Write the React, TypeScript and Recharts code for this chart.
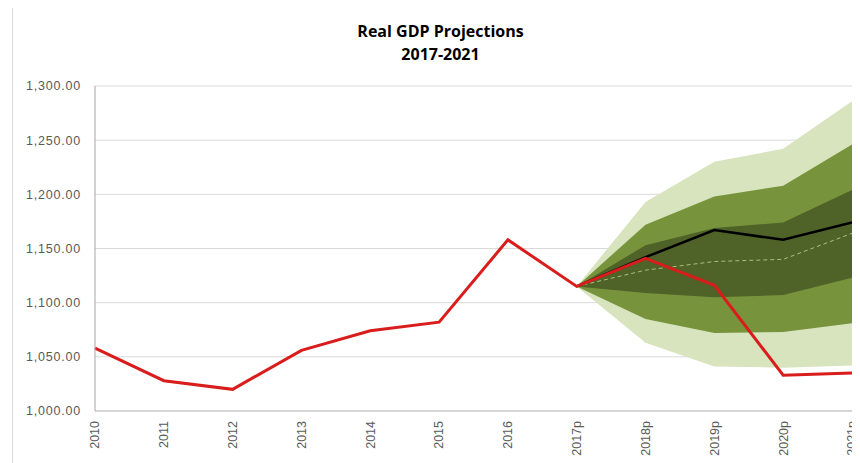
import {
  Area,
  CartesianGrid,
  ComposedChart,
  Line,
  XAxis,
  YAxis
} from "recharts";

const years = ["2010", "2011", "2012", "2013", "2014", "2015", "2016", "2017p", "2018p", "2019p", "2020p", "2021p"];
const actual = [1058, 1028, 1020, 1056, 1074, 1082, 1158, 1115, 1141, 1116, 1033, 1035];
const forecast = [null, null, null, null, null, null, null, 1115, 1142, 1167, 1158, 1174];
const median = [null, null, null, null, null, null, null, 1115, 1130, 1138, 1140, 1164];
const outerLow = [null, null, null, null, null, null, null, 1115, 1063, 1041, 1040, 1042];
const outerHigh = [null, null, null, null, null, null, null, 1115, 1193, 1230, 1242, 1286];
const midLow = [null, null, null, null, null, null, null, 1115, 1085, 1072, 1073, 1081];
const midHigh = [null, null, null, null, null, null, null, 1115, 1172, 1198, 1208, 1246];
const innerLow = [null, null, null, null, null, null, null, 1115, 1109, 1105, 1107, 1123];
const innerHigh = [null, null, null, null, null, null, null, 1115, 1153, 1169, 1174, 1204];
const yTicks = [1000, 1050, 1100, 1150, 1200, 1250, 1300];

const band = (lo, hi, i) => (lo[i] == null ? null : [lo[i], hi[i]]);

const data = years.map((year, i) => ({
  year,
  actual: actual[i],
  forecast: forecast[i],
  median: median[i],
  outer: band(outerLow, outerHigh, i),
  mid: band(midLow, midHigh, i),
  inner: band(innerLow, innerHigh, i)
}));

const fmt = (v) =>
  v.toLocaleString("en-US", { minimumFractionDigits: 2, maximumFractionDigits: 2 });

const font = "'Liberation Sans', Arial, sans-serif";

const YearTick = ({ x, y, payload }) => (
  <text
    x={x}
    y={y + 2}
    dy="0.35em"
    transform={`rotate(-90, ${x}, ${y + 2})`}
    textAnchor="end"
    fill="#595959"
    fontSize={12.5}
    fontFamily={font}
  >
    {payload.value}
  </text>
);

const App = () => {
  return (
    <div
      style={{
        position: "relative",
        marginLeft: 4,
        marginTop: -1,
        borderLeft: "1px solid #d9d9d9",
        borderTop: "1px solid #d9d9d9",
        width: 847,
        height: 455
      }}
    >
      <div
        style={{
          position: "absolute",
          left: 0,
          top: 12,
          width: 855,
          textAlign: "center",
          fontFamily: "'Open Sans', sans-serif",
          fontWeight: 700,
          fontSize: 16,
          lineHeight: "23px",
          color: "#000"
        }}
      >
        Real GDP Projections
        <br />
        2017-2021
      </div>
      <ComposedChart
        width={847}
        height={454}
        data={data}
        margin={{ top: 78, right: 8, left: 0, bottom: 0 }}
      >
        <CartesianGrid vertical={false} stroke="#d9d9d9" />
        <XAxis
          dataKey="year"
          scale="point"
          padding={{ left: 0, right: 0 }}
          height={51}
          interval={0}
          tickLine={false}
          axisLine={{ stroke: "#bfbfbf" }}
          tick={<YearTick />}
        />
        <YAxis
          domain={[1000, 1300]}
          ticks={yTicks}
          width={82}
          tickFormatter={fmt}
          tickLine={false}
          tickSize={0}
          tickMargin={14}
          axisLine={{ stroke: "#a6a6a6" }}
          tick={{ fill: "#595959", fontSize: 12.5, fontFamily: font, letterSpacing: 0.8 }}
        />
        <Area dataKey="outer" stroke="none" fill="#d7e4bd" fillOpacity={1} isAnimationActive={false} dot={false} activeDot={false} />
        <Area dataKey="mid" stroke="none" fill="#77933c" fillOpacity={1} isAnimationActive={false} dot={false} activeDot={false} />
        <Area dataKey="inner" stroke="none" fill="#4f6228" fillOpacity={1} isAnimationActive={false} dot={false} activeDot={false} />
        <Line dataKey="median" stroke="#a9bf7a" strokeWidth={1} strokeDasharray="4 3" dot={false} activeDot={false} isAnimationActive={false} />
        <Line dataKey="forecast" stroke="#000000" strokeWidth={2.5} dot={false} activeDot={false} isAnimationActive={false} />
        <Line dataKey="actual" stroke="#d91c1c" strokeWidth={3} dot={false} activeDot={false} isAnimationActive={false} />
      </ComposedChart>
    </div>
  );
};

export default App;
